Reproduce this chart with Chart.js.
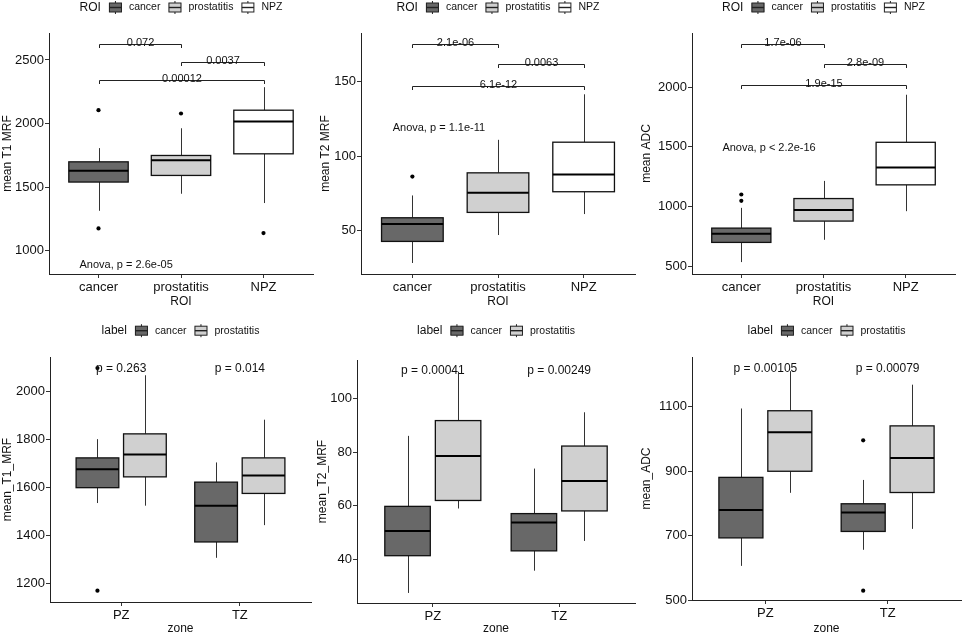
<!DOCTYPE html>
<html>
<head>
<meta charset="utf-8">
<script src="https://cdn.jsdelivr.net/npm/chart.js@4.4.1/dist/chart.umd.min.js"></script>
<style>
  body { margin: 0; background: #fff; }
  #wrap { position: relative; width: 965px; height: 636px; overflow: hidden; background: #fff; }
  canvas { position: absolute; }
</style>
</head>
<body>
<div id="wrap">
  <canvas id="c1"></canvas>
  <canvas id="c2"></canvas>
  <canvas id="c3"></canvas>
  <canvas id="c4"></canvas>
  <canvas id="c5"></canvas>
  <canvas id="c6"></canvas>
</div>
<script>
// categories
var roiCats = ['cancer', 'prostatitis', 'NPZ'];
var zoneCats = ['PZ', 'TZ'];
var labelCats = ['cancer', 'prostatitis'];

// box stats per group: [lower whisker, Q1, median, Q3, upper whisker]
var t1Stats = [[1314, 1540, 1628, 1699, 1807], [1448, 1592, 1712, 1749, 1963], [1375, 1762, 2016, 2105, 2286]];
var t2Stats = [[28.1, 42.6, 54.3, 58.5, 73.5], [46.9, 62.1, 75.3, 88.7, 110.9], [61, 76, 87.6, 109.3, 141.5]];
var adcStats = [[533, 698, 770, 818, 988], [720, 877, 971, 1066, 1214], [960, 1181, 1326, 1538, 1937]];

// outliers per ROI group
var t1Out = [[2105, 1175], [2079], [1139]];
var t2Out = [[86.2], [], []];
var adcOut = [[1100, 1047], [], []];

// by zone (PZ, TZ)
var t1ZoneCancer = [[1536, 1600, 1677, 1724, 1802], [1308, 1374, 1525, 1623, 1705]];
var t1ZoneProst = [[1525, 1645, 1738, 1824, 2068], [1444, 1576, 1651, 1724, 1883]];
var t2ZoneCancer = [[27.5, 41.4, 50.6, 59.8, 86.1], [35.8, 43.2, 53.8, 57.1, 73.9]];
var t2ZoneProst = [[59, 62, 78.6, 91.8, 110], [46.9, 58.1, 69.3, 82.3, 94.9]];
var adcZoneCancer = [[606, 693, 780, 881, 1095], [656, 713, 772, 799, 873]];
var adcZoneProst = [[833, 900, 1021, 1088, 1211], [721, 834, 941, 1041, 1169]];
var t1ZoneCancerOut = [[1171, 2098], []];
var t2ZoneCancerOut = [[], []];
var adcZoneCancerOut = [[], [996, 529]];

// tick labels
var t1Ticks = [1000, 1500, 2000, 2500];
var t2Ticks = [50, 100, 150];
var adcTicks = [500, 1000, 1500, 2000];
var t1ZoneTicks = [1200, 1400, 1600, 1800, 2000];
var t2ZoneTicks = [40, 60, 80, 100];
var adcZoneTicks = [500, 700, 900, 1100];

// pairwise comparisons (top row)
var pairs = [[1, 2], [2, 3], [1, 3]];
var t1Brk = [2624, 2487, 2343];
var t1BrkLab = ['0.072', '0.0037', '0.00012'];
var t2Brk = [175, 161.7, 147.1];
var t2BrkLab = ['2.1e-06', '0.0063', '6.1e-12'];
var adcBrk = [2359, 2192, 2018];
var adcBrkLab = ['1.7e-06', '2.8e-09', '1.9e-15'];

// p-values per zone (bottom row)
var t1ZoneP = ['p = 0.263', 'p = 0.014'];
var t2ZoneP = ['p = 0.00041', 'p = 0.00249'];
var adcZoneP = ['p = 0.00105', 'p = 0.00079'];

var FONT = '"Liberation Sans", Arial, sans-serif';
Chart.defaults.font.family = FONT;
Chart.defaults.color = '#111';

var roiFill = ['#686868', '#d0d0d0', '#ffffff'];
var labelFill = ['#686868', '#d0d0d0'];

function hline(ctx, x1, y1, x2, y2) {
    ctx.beginPath();
    ctx.moveTo(x1, y1);
    ctx.lineTo(x2, y2);
    ctx.stroke();
}

function drawBox(ctx, xs, ys, b) {
    var s = b.s;
    var x0 = xs.getPixelForValue(b.x - b.w / 2), x1 = xs.getPixelForValue(b.x + b.w / 2);
    var cx = Math.round(xs.getPixelForValue(b.x)) + 0.5;
    var yLo = ys.getPixelForValue(s[0]), yQ1 = ys.getPixelForValue(s[1]);
    var yMed = ys.getPixelForValue(s[2]), yQ3 = ys.getPixelForValue(s[3]);
    var yHi = ys.getPixelForValue(s[4]);
    ctx.save();
    ctx.strokeStyle = '#333';
    ctx.lineWidth = 1;
    hline(ctx, cx, yHi, cx, yQ3);
    hline(ctx, cx, yQ1, cx, yLo);
    ctx.fillStyle = b.fill;
    ctx.fillRect(x0, yQ3, x1 - x0, yQ1 - yQ3);
    ctx.strokeStyle = '#111';
    ctx.lineWidth = 1.3;
    ctx.strokeRect(x0, yQ3, x1 - x0, yQ1 - yQ3);
    ctx.strokeStyle = '#000';
    ctx.lineWidth = 2;
    hline(ctx, x0, yMed, x1, yMed);
    ctx.restore();
}

function drawKey(ctx, x, y, fill) {
    ctx.save();
    ctx.strokeStyle = '#222';
    ctx.lineWidth = 1;
    hline(ctx, x + 6.5, y - 6.5, x + 6.5, y + 6.5);
    ctx.fillStyle = fill;
    ctx.fillRect(x, y - 4.5, 13, 9);
    ctx.strokeRect(x + 0.5, y - 4.5, 12, 9);
    ctx.lineWidth = 1.4;
    hline(ctx, x + 0.5, y, x + 12.5, y);
    ctx.restore();
}

function drawLegend(ctx, chart, lg) {
    var titleFont = '12px ' + FONT, itemFont = '10.5px ' + FONT;
    ctx.save();
    ctx.font = titleFont;
    var tw = ctx.measureText(lg.title).width;
    ctx.font = itemFont;
    var total = tw + 8;
    lg.labels.forEach(function (l, i) {
        total += 13 + 7 + ctx.measureText(l).width + (i < lg.labels.length - 1 ? 8 : 0);
    });
    var x = (chart.chartArea.left + chart.chartArea.right) / 2 - total / 2;
    var y = lg.y;
    ctx.fillStyle = '#111';
    ctx.textBaseline = 'middle';
    ctx.textAlign = 'left';
    ctx.font = titleFont;
    ctx.fillText(lg.title, x, y);
    x += tw + 8;
    ctx.font = itemFont;
    lg.labels.forEach(function (l, i) {
        drawKey(ctx, x, y, lg.fills[i]);
        x += 13 + 7;
        ctx.fillStyle = '#111';
        ctx.fillText(l, x, y);
        x += ctx.measureText(l).width + 8;
    });
    ctx.restore();
}

function panelPlugin(p) {
    return {
        id: 'panel_' + p.id,
        beforeDatasetsDraw: function (chart) {
            var ctx = chart.ctx, xs = chart.scales.x, ys = chart.scales.y;
            p.boxes.forEach(function (b) { drawBox(ctx, xs, ys, b); });
        },
        afterDatasetsDraw: function (chart) {
            var ctx = chart.ctx, xs = chart.scales.x, ys = chart.scales.y;
            ctx.save();
            ctx.strokeStyle = '#222';
            ctx.lineWidth = 1;
            ctx.fillStyle = '#111';
            ctx.textAlign = 'center';
            (p.brackets || []).forEach(function (br) {
                var x1 = Math.round(xs.getPixelForValue(br.a)) + 0.5;
                var x2 = Math.round(xs.getPixelForValue(br.b)) + 0.5;
                var y = Math.round(ys.getPixelForValue(br.y)) + 0.5;
                ctx.beginPath();
                ctx.moveTo(x1, y + 3.5);
                ctx.lineTo(x1, y);
                ctx.lineTo(x2, y);
                ctx.lineTo(x2, y + 3.5);
                ctx.stroke();
                ctx.font = '11px ' + FONT;
                ctx.textBaseline = 'alphabetic';
                ctx.fillText(br.text, (x1 + x2) / 2, y + 1.5);
            });
            (p.notes || []).forEach(function (n) {
                ctx.font = n.size + 'px ' + FONT;
                ctx.textAlign = n.align;
                ctx.textBaseline = 'middle';
                ctx.fillText(n.text, xs.getPixelForValue(n.x), ys.getPixelForValue(n.y));
            });
            ctx.restore();
        },
        afterDraw: function (chart) {
            drawLegend(chart.ctx, chart, p.legend);
        }
    };
}

function makePanel(p) {
    var cv = document.getElementById(p.id);
    cv.width = p.cw;
    cv.height = p.ch;
    cv.style.left = p.cl + 'px';
    cv.style.top = p.ct + 'px';
    cv.style.width = p.cw + 'px';
    cv.style.height = p.ch + 'px';
    var cats = p.cats;
    return new Chart(cv, {
        type: 'scatter',
        data: {
            datasets: [{
                data: p.points,
                pointRadius: 2.1,
                pointBackgroundColor: '#000',
                pointBorderWidth: 0
            }]
        },
        options: {
            responsive: false,
            maintainAspectRatio: false,
            animation: false,
            devicePixelRatio: 1,
            layout: { padding: { left: 0, top: p.T - p.ct, right: p.cl + p.cw - p.R, bottom: 0 } },
            plugins: { legend: { display: false }, tooltip: { enabled: false } },
            scales: {
                x: {
                    type: 'linear',
                    min: 0.4,
                    max: cats.length + 0.6,
                    afterBuildTicks: function (s) {
                        s.ticks = cats.map(function (c, i) { return { value: i + 1 }; });
                    },
                    afterFit: function (s) { s.height = p.ct + p.ch - p.B; },
                    ticks: {
                        autoSkip: false, maxRotation: 0, padding: 2, color: '#111',
                        font: { size: 13 },
                        callback: function (v) { return cats[Math.round(v) - 1]; }
                    },
                    grid: { drawOnChartArea: false, drawTicks: true, tickLength: 4, color: '#333' },
                    border: { display: true, color: '#222', width: 1 },
                    title: { display: true, text: p.xTitle, color: '#111', font: { size: 12 }, padding: { top: 0, bottom: p.xPad } }
                },
                y: {
                    type: 'linear',
                    min: p.yMin,
                    max: p.yMax,
                    afterBuildTicks: function (s) {
                        s.ticks = p.ticks.map(function (v) { return { value: v }; });
                    },
                    afterFit: function (s) { s.width = p.L - p.cl; },
                    ticks: {
                        padding: 1, color: '#111', font: { size: 13 },
                        callback: function (v) { return String(v); }
                    },
                    grid: { drawOnChartArea: false, drawTicks: true, tickLength: 4, color: '#333' },
                    border: { display: true, color: '#222', width: 1 },
                    title: { display: true, text: p.yTitle, color: '#111', font: { size: 12 }, padding: { top: 0, bottom: 0 } }
                }
            }
        },
        plugins: [panelPlugin(p)]
    });
}

function roiBoxes(stats) {
    return stats.map(function (s, i) { return { x: i + 1, w: 0.72, s: s, fill: roiFill[i] }; });
}
function roiPoints(out) {
    var pts = [];
    out.forEach(function (arr, i) { arr.forEach(function (v) { pts.push({ x: i + 1, y: v }); }); });
    return pts;
}
function roiBrackets(ys, labs) {
    return pairs.map(function (pr, i) { return { a: pr[0], b: pr[1], y: ys[i], text: labs[i] }; });
}
function zoneBoxes(canc, prost) {
    var out = [];
    zoneCats.forEach(function (z, i) {
        out.push({ x: i + 1 - 0.2, w: 0.36, s: canc[i], fill: labelFill[0] });
        out.push({ x: i + 1 + 0.2, w: 0.36, s: prost[i], fill: labelFill[1] });
    });
    return out;
}
function zonePoints(out) {
    var pts = [];
    out.forEach(function (arr, i) { arr.forEach(function (v) { pts.push({ x: i + 1 - 0.2, y: v }); }); });
    return pts;
}
function zoneNotes(labs, y) {
    return labs.map(function (t, i) { return { x: i + 1, y: y, text: t, size: 12, align: 'center' }; });
}

var roiLegend = { title: 'ROI', labels: roiCats, fills: roiFill, y: 7.5 };
var labelLegend = { title: 'label', labels: labelCats, fills: labelFill, y: 12.7 };

makePanel({
    id: 'c1', cl: 0, ct: 0, cw: 318, ch: 318, L: 49, T: 33, R: 313, B: 274,
    cats: roiCats, yMin: 817, yMax: 2712, ticks: t1Ticks,
    boxes: roiBoxes(t1Stats), points: roiPoints(t1Out),
    brackets: roiBrackets(t1Brk, t1BrkLab),
    notes: [{ x: 0.77, y: 885, text: 'Anova, p = 2.6e-05', size: 11, align: 'left' }],
    legend: roiLegend, xTitle: 'ROI', yTitle: 'mean T1 MRF', xPad: 9
});
makePanel({
    id: 'c2', cl: 318, ct: 0, cw: 321, ch: 318, L: 361, T: 33, R: 635, B: 274,
    cats: roiCats, yMin: 20.7, yMax: 182.7, ticks: t2Ticks,
    boxes: roiBoxes(t2Stats), points: roiPoints(t2Out),
    brackets: roiBrackets(t2Brk, t2BrkLab),
    notes: [{ x: 0.77, y: 119.1, text: 'Anova, p = 1.1e-11', size: 11, align: 'left' }],
    legend: roiLegend, xTitle: 'ROI', yTitle: 'mean T2 MRF', xPad: 9
});
makePanel({
    id: 'c3', cl: 639, ct: 0, cw: 326, ch: 318, L: 692, T: 33, R: 955, B: 274,
    cats: roiCats, yMin: 433, yMax: 2455, ticks: adcTicks,
    boxes: roiBoxes(adcStats), points: roiPoints(adcOut),
    brackets: roiBrackets(adcBrk, adcBrkLab),
    notes: [{ x: 0.77, y: 1488, text: 'Anova, p < 2.2e-16', size: 11, align: 'left' }],
    legend: roiLegend, xTitle: 'ROI', yTitle: 'mean ADC', xPad: 9
});
makePanel({
    id: 'c4', cl: 0, ct: 318, cw: 315, ch: 318, L: 50, T: 357, R: 313, B: 602,
    cats: zoneCats, yMin: 1124, yMax: 2144, ticks: t1ZoneTicks,
    boxes: zoneBoxes(t1ZoneCancer, t1ZoneProst), points: zonePoints(t1ZoneCancerOut),
    notes: zoneNotes(t1ZoneP, 2095),
    legend: labelLegend, xTitle: 'zone', yTitle: 'mean_T1_MRF', xPad: 0
});
makePanel({
    id: 'c5', cl: 315, ct: 318, cw: 324, ch: 318, L: 357, T: 360, R: 635, B: 603,
    cats: zoneCats, yMin: 23.75, yMax: 114.4, ticks: t2ZoneTicks,
    boxes: zoneBoxes(t2ZoneCancer, t2ZoneProst), points: zonePoints(t2ZoneCancerOut),
    notes: zoneNotes(t2ZoneP, 110.3),
    legend: labelLegend, xTitle: 'zone', yTitle: 'mean_T2_MRF', xPad: 0
});
makePanel({
    id: 'c6', cl: 639, ct: 318, cw: 326, ch: 318, L: 692, T: 357, R: 963, B: 600,
    cats: zoneCats, yMin: 500, yMax: 1255, ticks: adcZoneTicks,
    boxes: zoneBoxes(adcZoneCancer, adcZoneProst), points: zonePoints(adcZoneCancerOut),
    notes: zoneNotes(adcZoneP, 1220),
    legend: labelLegend, xTitle: 'zone', yTitle: 'mean_ADC', xPad: 0
});
</script>
</body>
</html>
